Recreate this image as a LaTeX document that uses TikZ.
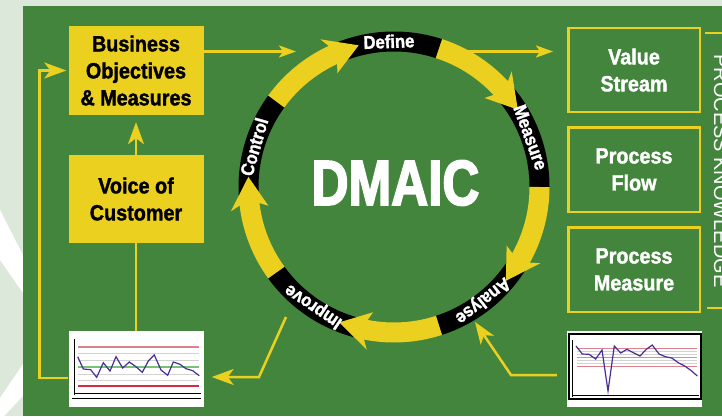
\documentclass[tikz,border=0pt]{standalone}
\usepackage{fontspec}
\setmainfont{Liberation Sans}
\newfontfamily\cond{Liberation Sans}[FakeStretch=0.9, FakeBold=1.5]
\newfontfamily\condx{Liberation Sans}[FakeStretch=0.8, FakeBold=2.5]
\usetikzlibrary{arrows.meta,calc}
\definecolor{bg}{RGB}{220,232,218}
\definecolor{grn}{RGB}{67,133,61}
\definecolor{yel}{RGB}{236,208,32}
\definecolor{ucl}{RGB}{220,130,140}
\definecolor{lcl}{RGB}{215,40,70}
\definecolor{clg}{RGB}{120,195,120}
\definecolor{dat}{RGB}{75,45,150}
\begin{document}
\begin{tikzpicture}[x=1pt,y=1pt,
  ybox/.style={fill=yel, minimum width=135pt, minimum height=89pt, inner sep=0pt, align=center, font=\cond\bfseries\fontsize{22}{27}\selectfont, text=black},
  gbox/.style={draw=yel, line width=2.5pt, minimum width=131.5pt, minimum height=84pt, inner sep=0pt, align=center, font=\cond\bfseries\fontsize{22}{27}\selectfont, text=white},
  chart/.style={fill=white, minimum width=135pt, minimum height=76pt, inner sep=0pt},
  conn/.style={draw=yel, line width=2.5pt, -{Stealth[length=22pt,width=16pt,inset=6pt]}},
  connS/.style={draw=yel, line width=2.5pt, -{Stealth[length=17pt,width=12pt,inset=4pt]}},
  plainline/.style={draw=yel, line width=2.5pt},
  band/.style={draw=black, line width=20pt},
  shaft/.style={draw=yel, line width=20pt},
  lab/.style={text=white, font=\cond\bfseries\fontsize{18.5}{18.5}\selectfont, inner sep=0pt},
]
\useasboundingbox (0,0) rectangle (722,416);
% background
\fill[bg] (0,0) rectangle (722,416);
\fill[white] (0,206) -- (23,161) -- (23,123) -- (0,156) -- cycle;
\fill[white] (0,18) -- (23,52) -- (23,20) -- (4,0) -- (0,0) -- cycle;
\fill[grn] (23,0) rectangle (722,410);

% boxes
\node[ybox] (bom) at (136,345.5) {Business\\Objectives\\\& Measures};
\node[ybox, minimum height=88pt] (voc) at (136,217) {Voice of\\Customer};
\node[gbox] (vs) at (634,346) {Value\\Stream};
\node[gbox, minimum height=84.5pt] (pf) at (634,246.5) {Process\\Flow};
\node[gbox, minimum height=84.5pt] (pm) at (634,146.5) {Process\\Measure};
\node[chart] (chl) at (136,47) {};
\node[chart] (chr) at (634.5,47) {};

% ring reference
\node[circle, minimum size=311pt, inner sep=0pt] (ring) at (394,229) {};

% connectors
\coordinate (defin) at (296,364.5);
\coordinate (ringout) at (452,364.5);
\coordinate (impout) at (286,99);
\coordinate (anain) at (475,94);
\draw[connS] ($(bom.east)+(0,19)$) -- (defin);
\draw[connS, shorten >=14pt] (ringout) -- (vs.west |- ringout);
\draw[conn, shorten >=7pt] (voc.north) -- (bom.south);
\draw[plainline] (chl.north) -- (voc.south);
\draw[conn, shorten >=2pt] ($(chl.west)+(0,-9)$) -| ($(bom.west)+(-29,0)$) -- (bom.west);
\draw[conn, shorten >=8pt] (impout) -- (259,39) -- ($(chl.east)+(0,-8)$);
\draw[conn, shorten <=10pt] ($(chr.west)+(0,-6)$) -- (511,41) -- (anain);

% ring: black bands
\foreach \c in {92,20,-52,-124,-196}{
  \pgfmathsetmacro\a{\c+20}
  \pgfmathsetmacro\b{\c-20}
  \draw[band] ($(ring.center)+(\a:145.5pt)$) arc[start angle=\a, end angle=\b, radius=145.5pt];
}
% ring: yellow arrows
\foreach \c in {92,20,-52,-124,-196}{
  \pgfmathsetmacro\s{\c+52}
  \pgfmathsetmacro\e{\c+21}
  \draw[shaft] ($(ring.center)+(\s:145.5pt)$) arc[start angle=\s, end angle=\e, radius=145.5pt];
  \fill[yel] ($(ring.center)+(\c+12:146pt)$) -- ($(ring.center)+(\c+24.5:165pt)$) -- ($(ring.center)+(\c+21:146pt)$) -- ($(ring.center)+(\c+24.5:127pt)$) -- cycle;
}
% ring labels
\foreach \c/\lab/\nm in {92/Define/def, 20/Measure/meas, -52/Analyse/ana, -124/Improve/imp, -196/Control/ctl}{
  \node[lab, rotate=\c-90, anchor=base] (\nm) at ($(ring.center)+(\c:139pt)$) {\lab};
}
\node[text=white, font=\condx\bfseries\fontsize{64}{64}\selectfont, anchor=base, inner sep=0pt] (dmaic) at (395.5,211) {DMAIC};

% right bracket and vertical title
\draw[yel, line width=1.5pt] (705,383) -- (722,383);
\draw[yel, line width=1.5pt] (707,108) -- (722,108);
\node[text=white, font=\fontsize{20}{20}\selectfont, rotate=-90, anchor=base, inner sep=0pt] (pk) at (714,245) {PROCESS KNOWLEDGE};

% left chart content
\draw[gray!35, line width=1pt] (78,63)--(199,63) (78,56)--(199,56) (78,42)--(199,42) (78,36)--(199,36);
\draw[ucl, line width=2pt] (78,69)--(199,69);
\draw[clg, line width=2pt] (78,49)--(199,49);
\draw[lcl, line width=1.2pt] (78,30)--(199,30);
\draw[black, line width=0.8pt] (74,77)--(74,21) (74,23)--(201,23);
\draw[black, line width=0.6pt] (72,18)--(201,18);
\draw[dat, line width=1.2pt] plot coordinates {(77.7,59.3) (83.3,47) (90.7,46.3) (96.7,38.7) (103.3,53.3) (110,45) (116,59.3) (122.7,48) (129.3,54) (136,49.3) (142.3,43.7) (148.3,55) (154.3,61) (161,46) (167.7,40.7) (173.3,54) (180,51.7) (186,47.3) (192.7,45.3) (199.3,40.3)};

% right chart content
\draw[black, line width=1.5pt] (569,17) rectangle (701,82);
\draw[gray!35, line width=1pt] (577,64.3)--(697,64.3) (577,62)--(697,62) (577,55.3)--(697,55.3) (577,52.7)--(697,52.7);
\draw[ucl, line width=1.5pt] (577,67.7)--(697,67.7);
\draw[ucl, line width=1.5pt] (577,49.3)--(697,49.3);
\draw[clg, line width=1.5pt] (577,58.7)--(697,58.7);
\draw[black, line width=0.8pt] (572,76)--(572,19) (572,20.3)--(699,20.3);
\draw[dat, line width=1.2pt] plot coordinates {(576,70) (582.3,62) (589,61.7) (595.7,57) (602,66) (608,25) (614.3,70) (620.7,63) (627,66.7) (633.3,63.3) (640,60) (646.3,66.7) (652.3,71) (659,62) (665.3,59.3) (671.7,58) (678.3,53.3) (684.7,50) (691.3,45.3) (697.3,40)};
\end{tikzpicture}
\end{document}
